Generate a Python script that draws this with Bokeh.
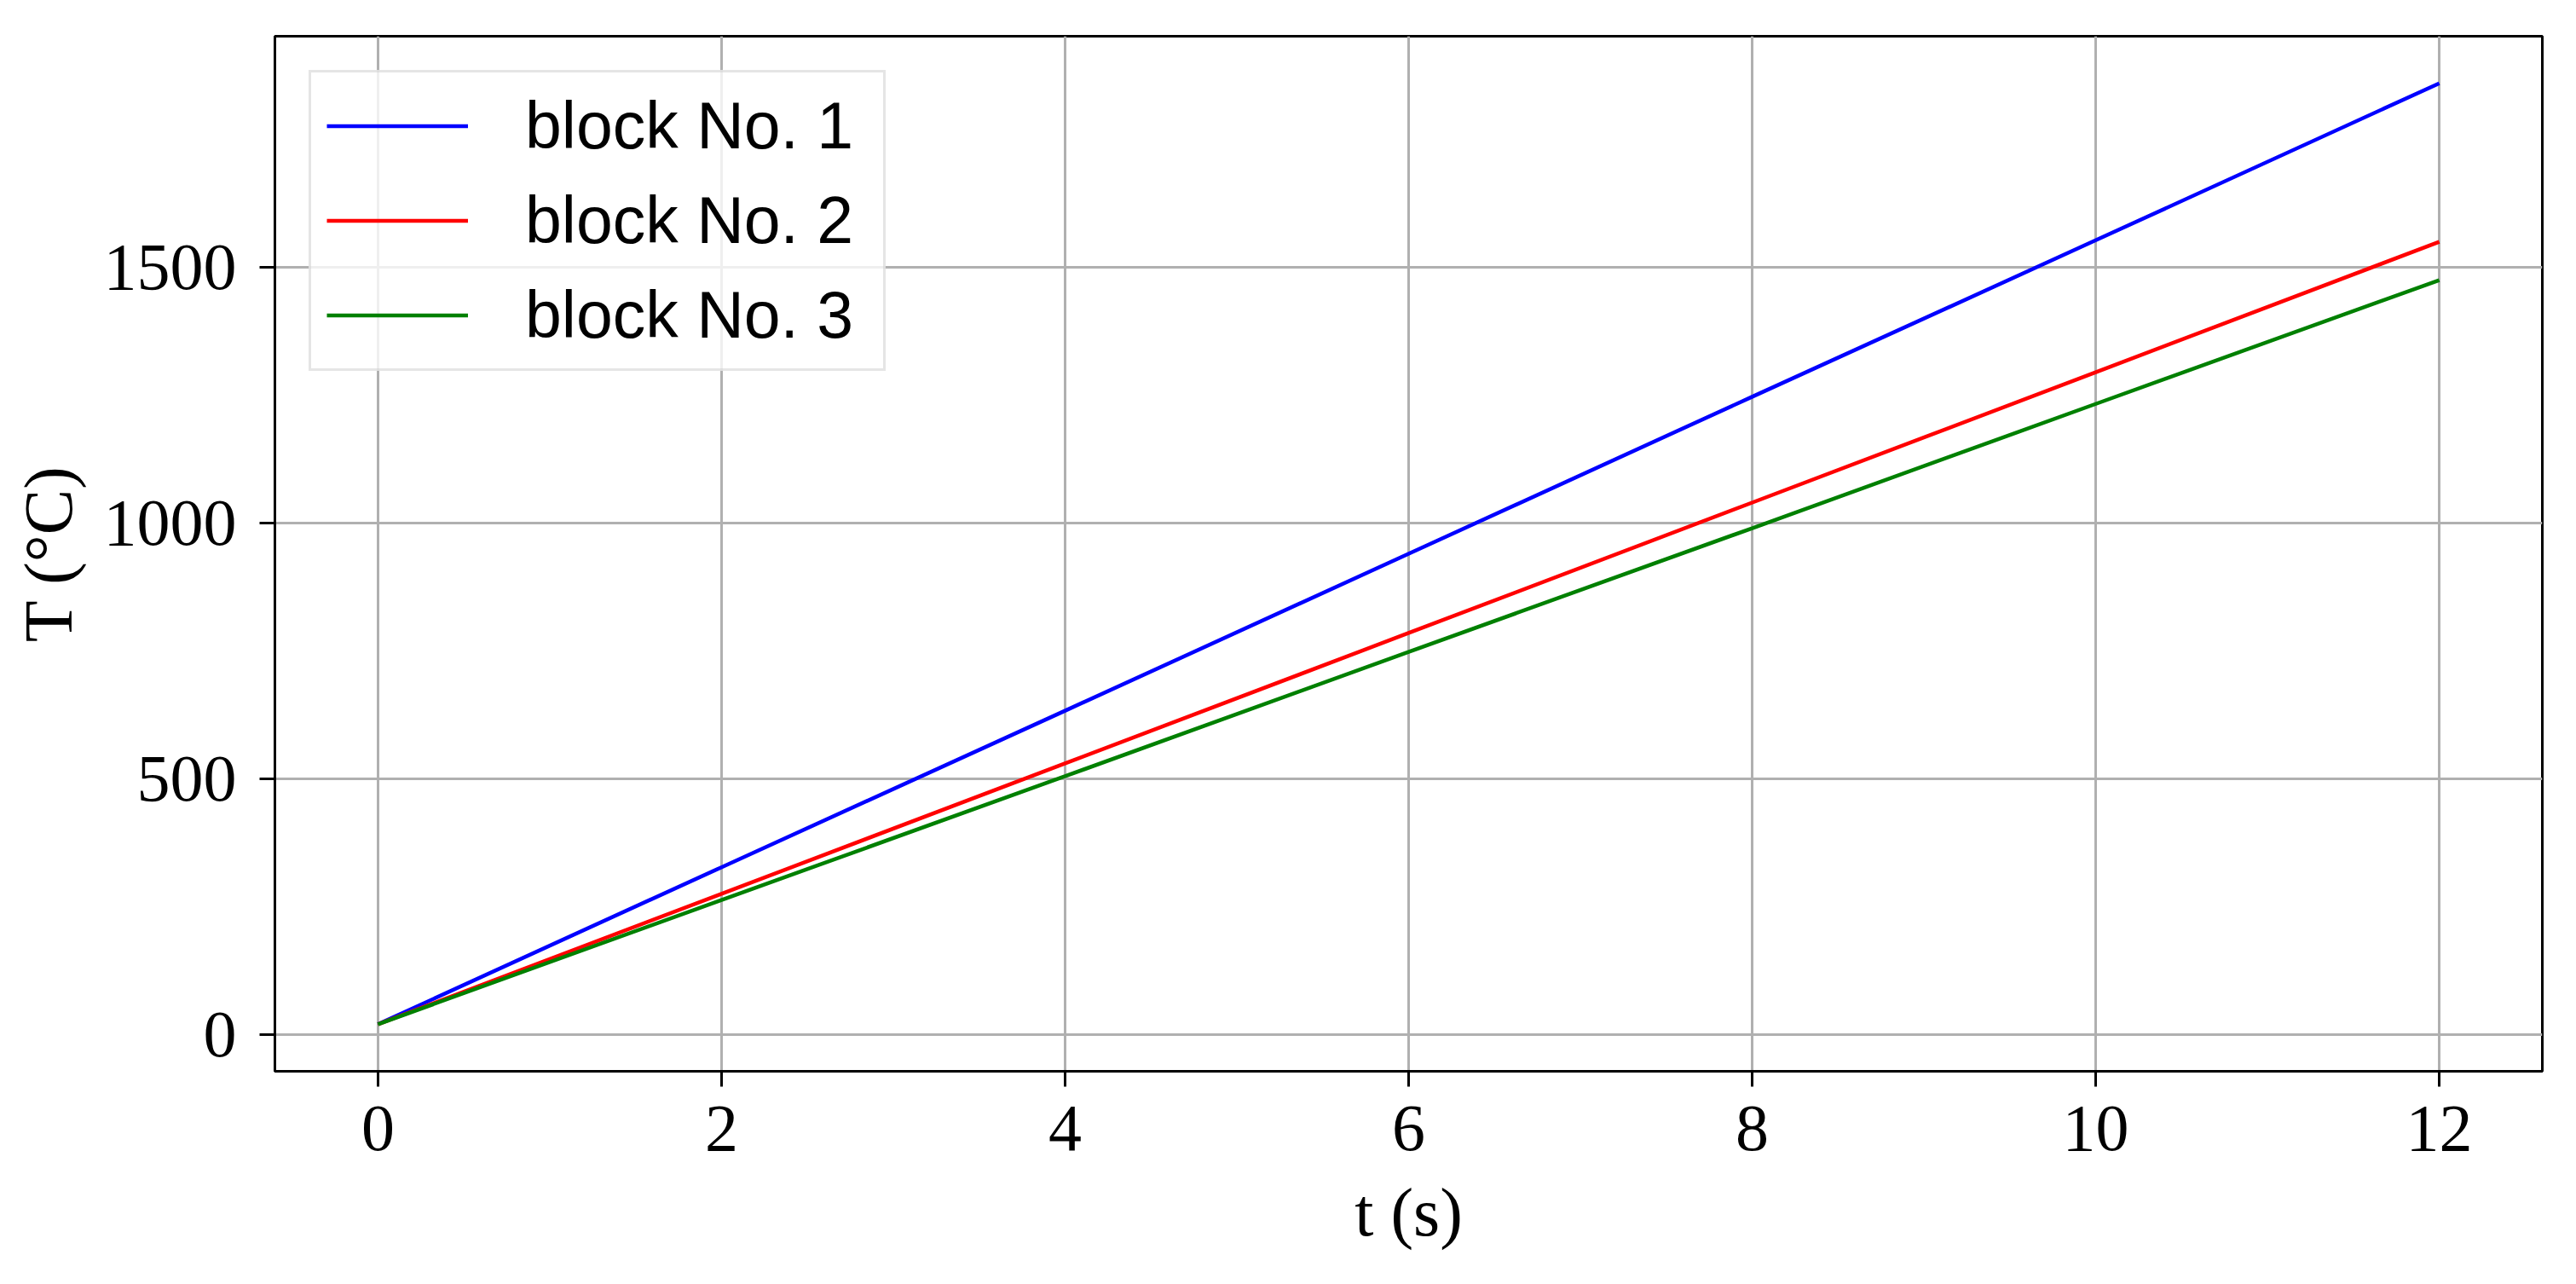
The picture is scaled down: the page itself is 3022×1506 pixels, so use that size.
from bokeh.plotting import figure
from bokeh.models import Range1d, FixedTicker
from bokeh.embed import file_html
from bokeh.resources import INLINE

# ---- data ----
t_s = [0, 2, 4, 6, 8, 10, 12]
block1 = [20, 327, 633, 940, 1247, 1553, 1860]
block2 = [20, 275, 530, 785, 1040, 1295, 1550]
block3 = [20, 263, 505, 748, 990, 1233, 1475]
series_labels = ["block No. 1", "block No. 2", "block No. 3"]
series_colors = ["#0000ff", "#ff0000", "#008000"]
x_ticks = [0, 2, 4, 6, 8, 10, 12]
y_ticks = [0, 500, 1000, 1500]

# matplotlib-style 5 % margins
xmin, xmax = min(t_s), max(t_s)
ymin = min(block1 + block2 + block3)
ymax = max(block1 + block2 + block3)
xpad = 0.05 * (xmax - xmin)
ypad = 0.05 * (ymax - ymin)

W, H = 3006, 1490
p = figure(width=W, height=H, output_backend="svg", toolbar_location=None,
           x_range=Range1d(xmin - xpad, xmax + xpad),
           y_range=Range1d(ymin - ypad, ymax + ypad))
p.min_border_left = 322
p.min_border_right = 24
p.min_border_top = 42
p.min_border_bottom = 234
p.background_fill_color = "white"
p.border_fill_color = "white"

p.outline_line_color = "black"
p.outline_line_width = 3
p.outline_line_alpha = 1.0

for s, lab, col in zip([block1, block2, block3], series_labels, series_colors):
    p.line(t_s, s, line_color=col, line_width=4.5, legend_label=lab)

serif = "Liberation Serif"
p.xaxis.ticker = FixedTicker(ticks=x_ticks)
p.yaxis.ticker = FixedTicker(ticks=y_ticks)
for ax in (p.xaxis, p.yaxis):
    ax.axis_line_color = "black"
    ax.axis_line_width = 3
    ax.major_tick_line_color = "black"
    ax.major_tick_line_width = 3
    ax.major_tick_out = 18
    ax.major_tick_in = 0
    ax.minor_tick_line_color = None
    ax.major_label_text_font = serif
    ax.major_label_text_font_size = "78px"
    ax.major_label_text_color = "black"
    ax.axis_label_text_font = serif
    ax.axis_label_text_font_size = "80px"
    ax.axis_label_text_font_style = "normal"
    ax.axis_label_text_color = "black"

p.xaxis.axis_label = "t (s)"
p.yaxis.axis_label = "T (°C)"
p.xaxis.major_label_standoff = 23
p.xaxis.axis_label_standoff = 26
p.yaxis.major_label_standoff = 27
p.yaxis.axis_label_standoff = 18

p.grid.grid_line_color = "#b0b0b0"
p.grid.grid_line_width = 3

lg = p.legend[0]
lg.location = "top_left"
lg.margin = 40
lg.padding = 18
lg.spacing = 22
lg.glyph_width = 166
lg.glyph_height = 85
lg.label_height = 85
lg.label_width = 402
lg.label_standoff = 67
lg.label_text_font = "Liberation Sans"
lg.label_text_font_size = "77px"
lg.label_text_color = "black"
lg.border_line_color = "#cccccc"
lg.border_line_width = 3
lg.background_fill_color = "white"
lg.background_fill_alpha = 0.8

open("out.html", "w").write(file_html(p, INLINE))
